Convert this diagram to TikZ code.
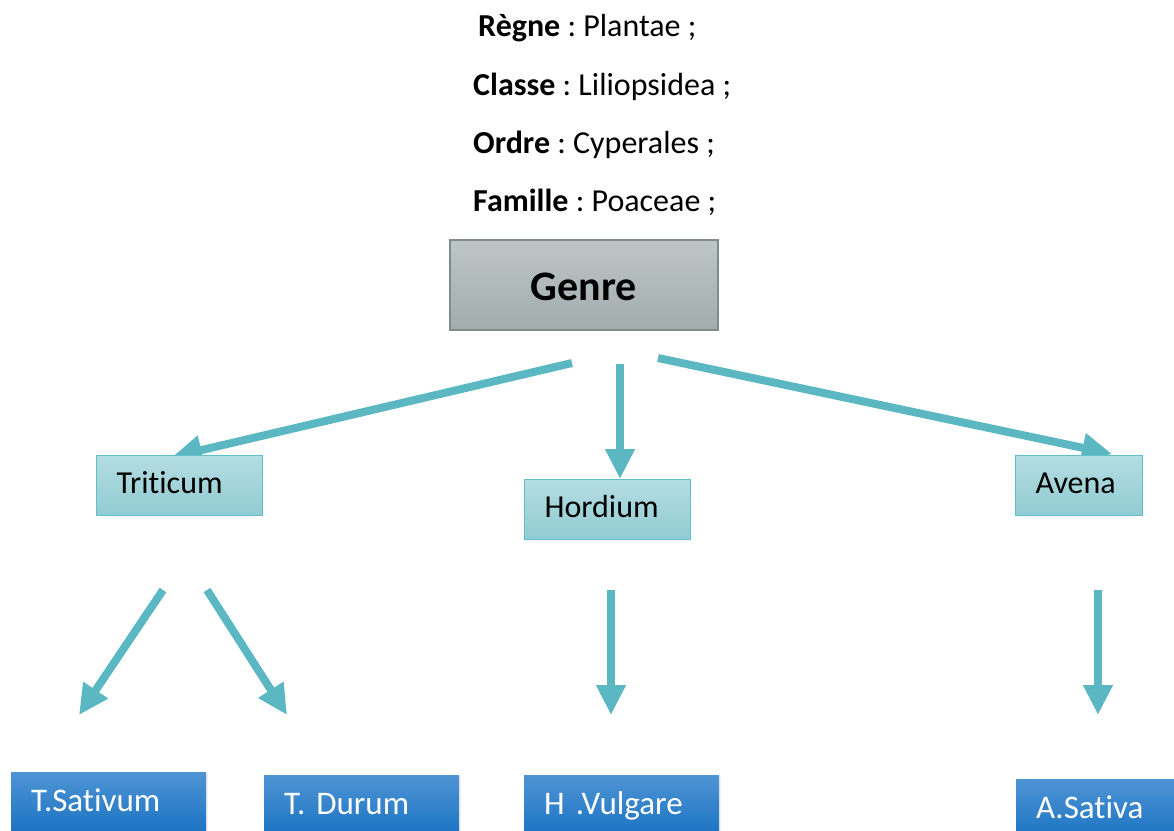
\documentclass[tikz,border=0pt]{standalone}
\usepackage{fontspec}
\setmainfont[Ligatures=NoCommon]{Carlito}
\usetikzlibrary{positioning,arrows.meta,backgrounds,shadows}
\frenchspacing

\definecolor{arrowteal}{HTML}{5BB8C3}
\definecolor{genretop}{HTML}{BEC6C6}
\definecolor{genrebot}{HTML}{A2ACAD}
\definecolor{genreedge}{HTML}{7F8C8D}
\definecolor{genustop}{HTML}{B3DDE2}
\definecolor{genusbot}{HTML}{91CBD2}
\definecolor{genusedge}{HTML}{5EC0C9}
\definecolor{speciestop}{HTML}{4E94D4}
\definecolor{speciesbot}{HTML}{1A72C2}

\begin{document}
\begin{tikzpicture}[
      x=1pt, y=-1pt,
      rank/.style={anchor=base west, inner sep=0pt,
                   font=\fontsize{32}{38}\selectfont},
      genrebox/.style={draw=genreedge, line width=1.2pt, top color=genretop,
                       bottom color=genrebot, minimum width=268pt,
                       minimum height=90pt, text height=30pt, text depth=0pt,
                       font=\fontsize{42}{48}\selectfont\bfseries},
      genusbox/.style={draw=genusedge, line width=1.2pt, top color=genustop,
                       bottom color=genusbot, anchor=north west,
                       inner xsep=20pt, text width=#1, align=left,
                       minimum height=60pt, text height=22pt, text depth=6pt,
                       font=\fontsize{32}{38}\selectfont},
      speciesbox/.style={top color=speciestop, bottom color=speciesbot,
                         text=white, anchor=north west, inner xsep=20pt,
                         text width=155pt, align=left, minimum height=62pt,
                         text height=22pt, text depth=6pt,
                         drop shadow={opacity=0.12, shadow xshift=2pt,
                                      shadow yshift=-2pt},
                         font=\fontsize{33}{38}\selectfont},
      arr/.style={-{Triangle[length=30pt, width=28pt]}, line width=8pt,
                  arrowteal}
    ]
    \useasboundingbox (0,0) rectangle (1174,830);

    % classification
    \node[rank] (regne)   at (478,36)  {\textbf{Règne} : Plantae ;};
    \node[rank] (classe)  at (473,95)  {\textbf{Classe} : Liliopsidea ;};
    \node[rank] (ordre)   at (473,153) {\textbf{Ordre} : Cyperales ;};
    \node[rank] (famille) at (473,211) {\textbf{Famille} : Poaceae ;};

    \node[genrebox] (genre) at (584,285) {Genre};

    % genres
    \node[genusbox=126pt] (triticum) at (96,455)   {Triticum};
    \node[genusbox=126pt] (hordium)  at (524,479)  {Hordium};
    \node[genusbox=87pt]  (avena)    at (1015,455) {Avena};

    % especes
    \node[speciesbox] (sativum)  at (11,772)   {T.Sativum};
    \node[speciesbox] (durum)    at (264,775)  {T. Durum};
    \node[speciesbox] (vulgare)  at (524,775)  {H .Vulgare};
    \node[speciesbox] (asativa)  at (1016,779) {A.Sativa};

    % arrows
    \coordinate (g1) at (572,363);
    \coordinate (g2) at (620,364);
    \coordinate (g3) at (658,358);
    \coordinate (t1) at (172,457);
    \coordinate (h1) at (620,479);
    \coordinate (a1) at (1112,454);
    \coordinate (ts) at (163,590);
    \coordinate (td) at (207,590);
    \coordinate (hs) at (611,590);
    \coordinate (as) at (1098,590);
    \coordinate (ts2) at (79,715);
    \coordinate (td2) at (287,715);
    \coordinate (hv2) at (611,715);
    \coordinate (as2) at (1098,715);

    \begin{scope}[on background layer]
      \draw[arr] (g1) -- (t1);
      \draw[arr] (g2) -- (h1);
      \draw[arr] (g3) -- (a1);
    \end{scope}
    \draw[arr] (ts) -- (ts2);
    \draw[arr] (td) -- (td2);
    \draw[arr] (hs) -- (hv2);
    \draw[arr] (as) -- (as2);
  \end{tikzpicture}
\end{document}
